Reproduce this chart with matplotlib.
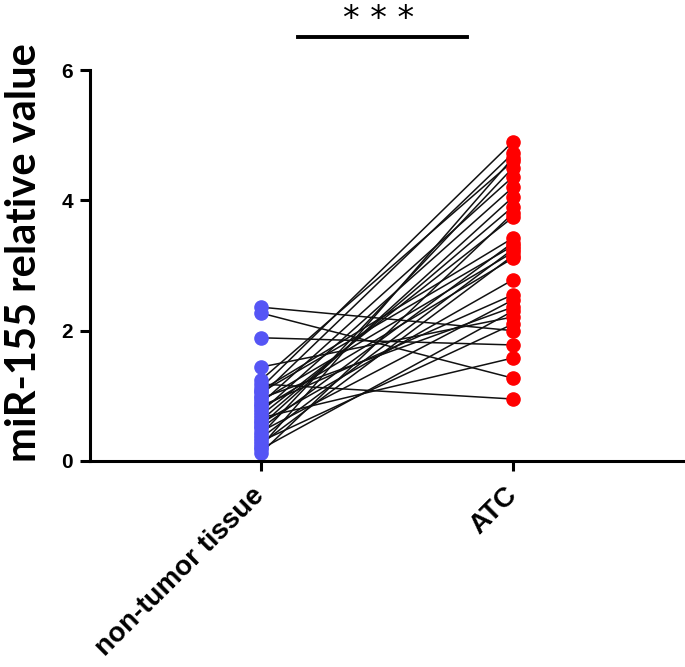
import numpy as np
from matplotlib import pyplot as plt

groups = ["non-tumor tissue", "ATC"]

normal = [2.36, 2.27, 1.89, 1.44, 1.24, 1.18, 1.12, 1.08, 1.05, 1.00,
          0.96, 0.92, 0.88, 0.84, 0.80, 0.75, 0.70, 0.66, 0.62, 0.58,
          0.54, 0.50, 0.45, 0.40, 0.35, 0.30, 0.26, 0.22, 0.18, 0.12]
atc = [2.00, 1.27, 1.78, 2.21, 4.60, 0.95, 4.90, 3.42, 3.30, 4.72,
       2.36, 3.20, 4.36, 2.55, 3.11, 4.20, 3.74, 1.58, 3.90, 2.78,
       4.05, 3.35, 2.47, 4.50, 3.25, 2.10, 3.15, 4.65, 2.30, 3.80]

plt.rcParams['font.family'] = ['Liberation Sans', 'DejaVu Sans']

fig = plt.figure(figsize=(6.85, 6.67), dpi=100)
ax = fig.add_axes([0.131, 0.309, 0.869, 0.586])

for a, b in zip(normal, atc):
    ax.plot([0, 1], [a, b], color='#111111', lw=1.1, zorder=1)
ax.scatter(np.zeros(len(normal)), normal, s=90, color='#5555f5', zorder=2)
ax.scatter(np.ones(len(atc)), atc, s=90, color='#ff0000', zorder=2)

ax.set_xlim(-0.679, 1.683)
ax.set_ylim(0, 6)
ax.set_yticks([0, 2, 4, 6])
ax.set_xticks([0, 1])
ax.set_xticklabels(groups, rotation=45, ha='right', va='center',
                   rotation_mode='anchor', fontsize=20, fontweight='bold')
for lab in ax.get_yticklabels():
    lab.set_fontweight('bold')
    lab.set_fontsize(15)
ax.tick_params(width=2.2, length=7, pad=5)
ax.tick_params(axis='x', pad=15)
for s in ['top', 'right']:
    ax.spines[s].set_visible(False)
for s in ['left', 'bottom']:
    ax.spines[s].set_linewidth(2.2)
ax.set_ylabel("miR-155 relative value", fontsize=30, fontweight='bold',
              family=['Lato', 'DejaVu Sans'])
ax.yaxis.set_label_coords(-0.079, 0.532)

# significance bar
ax.plot([0.147, 0.817], [6.5, 6.5], color='black', lw=2.8, clip_on=False)
ax.text(0.467, 6.78, "* * *", ha='center', va='center', fontsize=24,
        family='DejaVu Sans', clip_on=False)

plt.savefig("out.png", dpi=100)
